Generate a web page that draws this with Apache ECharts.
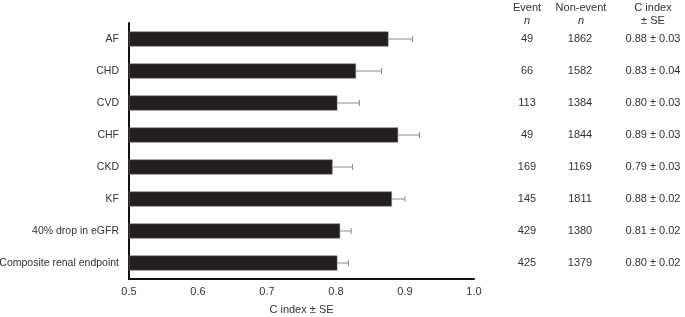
<!DOCTYPE html>
<html>
<head>
<meta charset="utf-8">
<script src="https://cdn.jsdelivr.net/npm/echarts@6/dist/echarts.min.js"></script>
<style>
  html, body { margin: 0; padding: 0; background: #fff; }
  #chart { width: 685px; height: 317px; }
</style>
</head>
<body>
<div id="chart"></div>
<script>
// outcomes, top to bottom
const categories = ['AF', 'CHD', 'CVD', 'CHF', 'CKD', 'KF', '40% drop in eGFR', 'Composite renal endpoint']
// C index and SE as drawn
const cIndex = [0.876, 0.829, 0.802, 0.890, 0.795, 0.881, 0.806, 0.802]
const cSE = [0.035, 0.037, 0.032, 0.031, 0.029, 0.019, 0.016, 0.016]
// table columns
const eventN = [49, 66, 113, 49, 169, 145, 429, 425]
const nonEventN = [1862, 1582, 1384, 1844, 1169, 1811, 1380, 1379]
const cText = ['0.88 ± 0.03', '0.83 ± 0.04', '0.80 ± 0.03', '0.89 ± 0.03', '0.79 ± 0.03', '0.88 ± 0.02', '0.81 ± 0.02', '0.80 ± 0.02']
const xTicks = [0.5, 0.6, 0.7, 0.8, 0.9, 1.0]

const font = 'Liberation Sans, Arial, sans-serif'
const txt = '#333'

let chart = echarts.init(document.getElementById('chart'), null, { renderer: 'canvas' })

// a right-hand y axis that just prints one table column
function tableAxis(values, margin) {
  return {
    type: 'category',
    data: categories,
    inverse: true,
    position: 'right',
    axisLine: { show: false },
    axisTick: { show: false },
    axisLabel: {
      margin,
      align: 'center',
      fontFamily: font,
      fontSize: 11,
      color: txt,
      formatter: (v, i) => String(values[i])
    }
  }
}

function header(x, line1, line2) {
  return {
    type: 'text',
    x: x,
    y: 1,
    style: {
      text: line1 + '\n{i|' + line2 + '}',
      align: 'center',
      verticalAlign: 'top',
      fontFamily: font,
      fontSize: 11,
      lineHeight: 13,
      fill: txt,
      rich: { i: { fontStyle: line2 === 'n' ? 'italic' : 'normal', fontFamily: font, fontSize: 11, lineHeight: 13, fill: txt } }
    }
  }
}

chart.setOption({
  animation: false,
  grid: { left: 129, right: 211, top: 23, bottom: 38, containLabel: false, outerBoundsMode: 'none' },
  xAxis: {
    type: 'value',
    min: 0.5,
    max: 1.0,
    interval: 0.1,
    name: 'C index ± SE',
    nameLocation: 'middle',
    nameGap: 25,
    nameTextStyle: { fontFamily: font, fontSize: 11, color: txt },
    axisLine: { show: true, lineStyle: { color: '#111', width: 2 } },
    axisTick: { show: false },
    splitLine: { show: false },
    axisLabel: {
      margin: 7,
      fontFamily: font,
      fontSize: 11,
      color: txt,
      formatter: v => xTicks.includes(Math.round(v * 10) / 10) ? v.toFixed(1) : ''
    }
  },
  yAxis: [
    {
      type: 'category',
      data: categories,
      inverse: true,
      axisLine: { show: true, onZero: false, lineStyle: { color: '#111', width: 2 } },
      axisTick: { show: false },
      axisLabel: { margin: 10, fontFamily: font, fontSize: 10.5, color: txt }
    },
    tableAxis(eventN, 53),
    tableAxis(nonEventN, 106),
    tableAxis(cText, 179)
  ],
  graphic: [
    header(527, 'Event', 'n'),
    header(581, 'Non-event', 'n'),
    header(653, 'C index', '± SE')
  ],
  series: [
    {
      type: 'bar',
      data: cIndex,
      barWidth: 15,
      itemStyle: { color: '#231f20', borderColor: '#777', borderWidth: 0.5 }
    },
    {
      type: 'custom',
      data: cIndex.map((v, i) => [v, i, v + cSE[i]]),
      encode: { x: [0, 2], y: 1 },
      z: 3,
      renderItem: (params, api) => {
        const a = api.coord([api.value(0), api.value(1)])
        const b = api.coord([api.value(2), api.value(1)])
        const cap = 3
        return {
          type: 'group',
          children: [
            { type: 'line', shape: { x1: a[0], y1: a[1], x2: b[0], y2: b[1] }, style: { stroke: '#8a8a8a', lineWidth: 1 } },
            { type: 'line', shape: { x1: b[0], y1: b[1] - cap, x2: b[0], y2: b[1] + cap }, style: { stroke: '#8a8a8a', lineWidth: 1 } }
          ]
        }
      }
    }
  ]
})
</script>
</body>
</html>
